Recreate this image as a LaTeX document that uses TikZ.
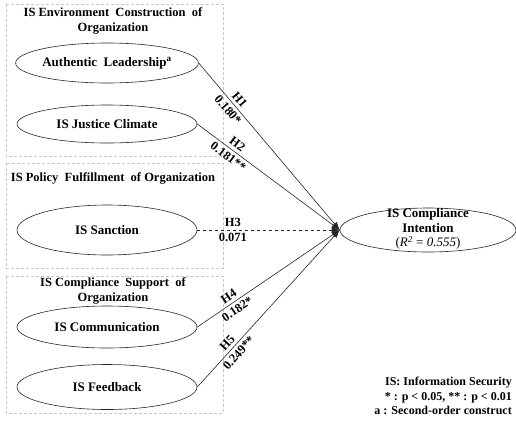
\documentclass[tikz,border=0pt]{standalone}
\usepackage{fontspec}
\setmainfont{Liberation Serif}
\usetikzlibrary{shapes.geometric,arrows.meta}
\begin{document}
\begin{tikzpicture}[x=1pt,y=-1pt,
  grp/.style={draw=black!22, dash pattern=on 3pt off 2pt, line width=0.6pt},
  con/.style={draw=black!85, ellipse, line width=0.6pt, minimum width=180pt, inner sep=0pt, font=\fontsize{13}{15}\selectfont\bfseries},
  head/.style={font=\fontsize{12.5}{15}\selectfont\bfseries, align=center, inner sep=0pt},
  lab/.style={font=\fontsize{12.5}{14}\selectfont\bfseries, sloped, inner sep=3.2pt},
  link/.style={draw=black!85, line width=0.6pt, -{Latex[length=8pt,width=6pt]}},
]
\useasboundingbox (0,0) rectangle (516,424);
% group boxes
\draw[grp] (6,4) rectangle (223,156);
\draw[grp] (6,163) rectangle (223,268);
\draw[grp] (6,276) rectangle (223,413);
% headings
\node[head] (h1) at (113,21) {IS Environment\ \ Construction\ \ of\\Organization};
\node[head] (h2) at (113,178) {IS Policy\ \ Fulfillment\ \ of Organization};
\node[head] (h3) at (113,291) {IS Compliance\ \ Support\ \ of\\Organization};
% constructs
\node[con, minimum height=40pt] (al) at (107,63) {Authentic\ \ Leadership\textsuperscript{a}};
\node[con, minimum height=38pt] (jc) at (107,124) {IS Justice Climate};
\node[con, minimum height=50pt] (sa) at (107,230) {IS Sanction};
\node[con, minimum height=42pt] (co) at (107,327) {IS Communication};
\node[con, minimum height=45pt] (fb) at (107,387) {IS Feedback};
\node[con, minimum width=176pt, minimum height=44pt] (ti) at (428,230) {};
\node[font=\fontsize{13}{14.5}\selectfont, align=center, inner sep=0pt] (tit) at (428,229)
  {\textbf{IS Compliance}\\\textbf{Intention}\\(\textit{R}\textsuperscript{\textit{2}} = \textit{0.555})};
% paths
\draw[link] (al.east) -- node[lab, pos=0.25, above] {H1} node[lab, pos=0.25, below] {0.180*} (ti.west);
\draw[link] (jc.east) -- node[lab, pos=0.25, above] {H2} node[lab, pos=0.25, below] {0.181**} (ti.west);
\draw[link, dashed] (sa.east) -- node[lab, pos=0.25, above] {H3} node[lab, pos=0.25, below] {0.071} (ti.west);
\draw[link] (co.east) -- node[lab, pos=0.25, above] {H4} node[lab, pos=0.25, below] {0.182*} (ti.west);
\draw[link] (fb.east) -- node[lab, pos=0.25, above] {H5} node[lab, pos=0.25, below] {0.249**} (ti.west);
% legend
\node[anchor=east, align=right, inner sep=0pt, font=\fontsize{12}{14.5}\selectfont\bfseries] (leg) at (512,396)
  {IS: Information Security\\* : p < 0.05, ** : p < 0.01\\a : Second-order construct};
\end{tikzpicture}
\end{document}
